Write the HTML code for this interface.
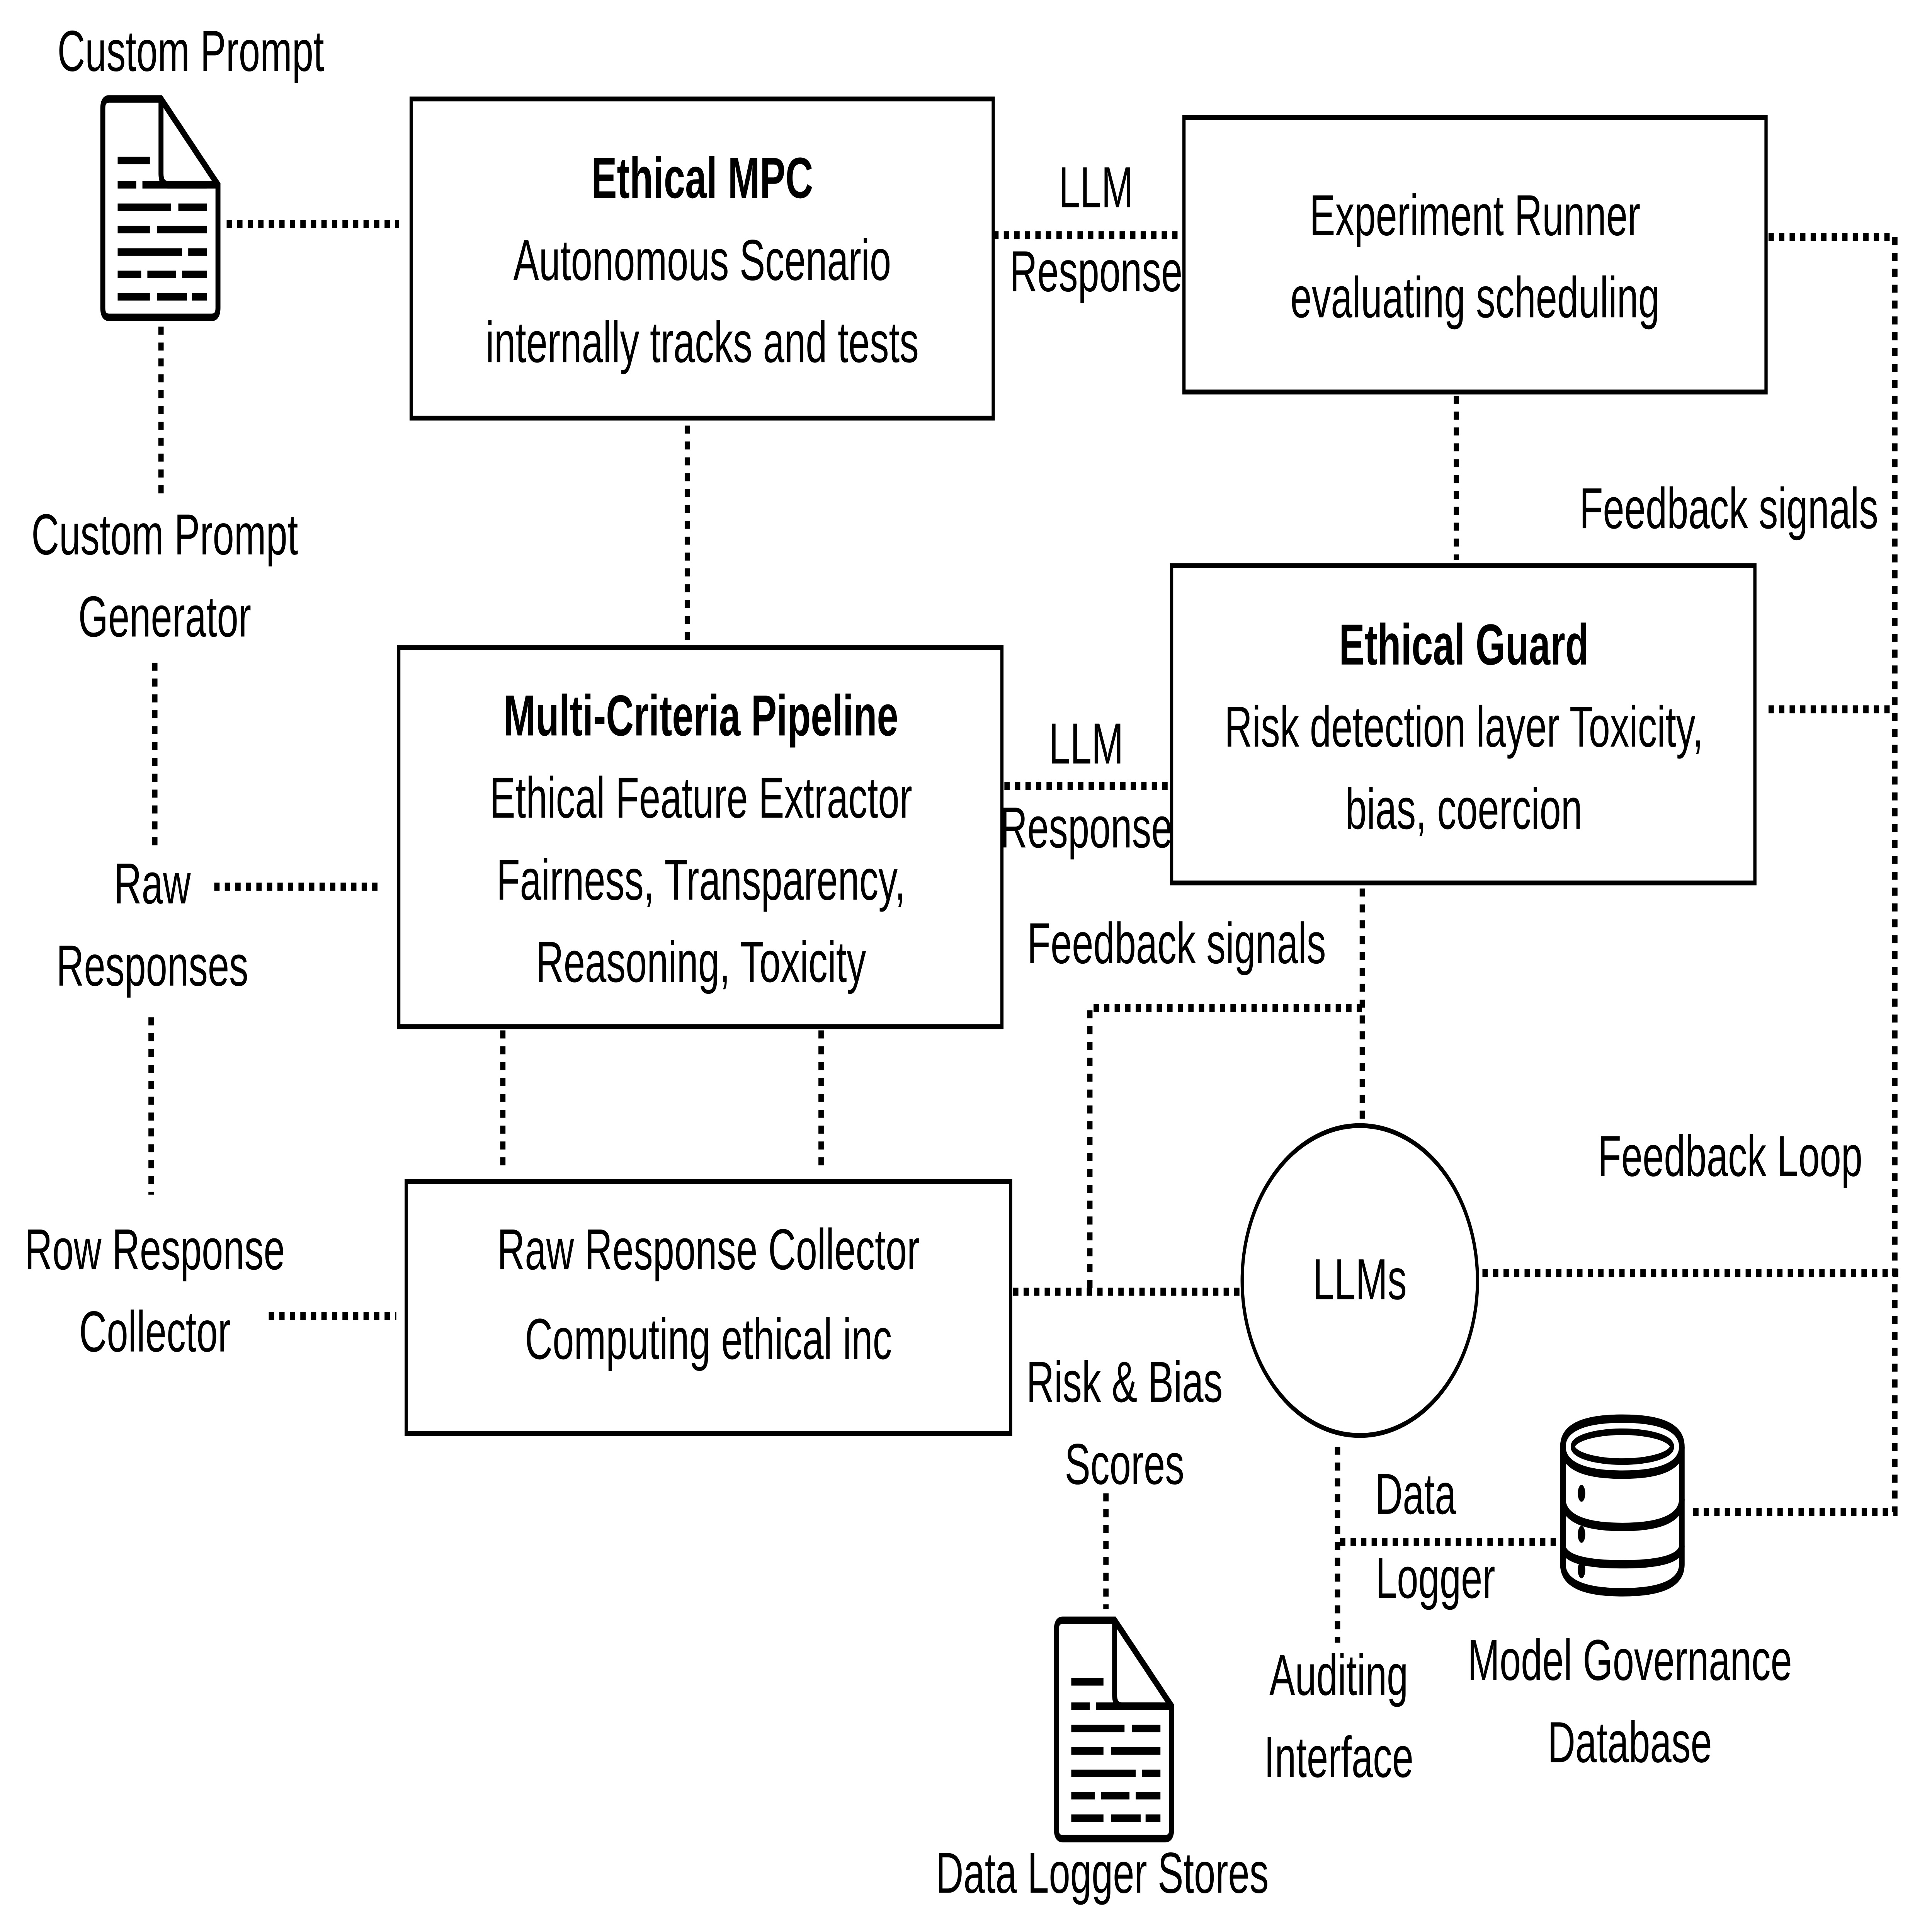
<!DOCTYPE html>
<html><head><meta charset="utf-8"><style>
html,body{margin:0;padding:0;background:#fff;width:100%;height:100%;overflow:hidden;}
svg{display:block;position:fixed;left:0;top:0;width:100vw;height:100vh;}
text{font-family:"Liberation Sans",sans-serif;font-size:31px;fill:#000;text-anchor:middle;}
.b{font-weight:bold;}
.d{fill:none;stroke:#000;stroke-width:4.3;stroke-dasharray:4.3 4.2;}
.box{fill:#fff;stroke:#000;stroke-width:2.6;}
</style></head><body>
<svg viewBox="0 0 1560 1035" preserveAspectRatio="none" xmlns="http://www.w3.org/2000/svg">
<defs>
<g id="doc">
<path d="M5,0 H47 L93,46 V112 Q93,117 88,117 H5 Q0,117 0,112 V5 Q0,0 5,0 Z" fill="#fff" stroke="#000" stroke-width="4"/>
<path d="M47,0 V40 Q47,46 53,46 H93" fill="none" stroke="#000" stroke-width="4"/>
<g stroke="#000" stroke-width="4">
<line x1="12" y1="33" x2="38" y2="33"/>
<line x1="12" y1="46" x2="27" y2="46"/><line x1="32" y1="46" x2="84" y2="46"/>
<line x1="12" y1="58" x2="55" y2="58"/><line x1="61" y1="58" x2="84" y2="58"/>
<line x1="12" y1="70" x2="38" y2="70"/><line x1="44" y1="70" x2="84" y2="70"/>
<line x1="12" y1="82" x2="64" y2="82"/><line x1="69" y1="82" x2="84" y2="82"/>
<line x1="12" y1="94" x2="31" y2="94"/><line x1="36" y1="94" x2="59" y2="94"/><line x1="64" y1="94" x2="84" y2="94"/>
<line x1="12" y1="106" x2="38" y2="106"/><line x1="44" y1="106" x2="68" y2="106"/><line x1="72" y1="106" x2="84" y2="106"/>
</g>
</g>
</defs>
<rect width="1560" height="1035" fill="#fff"/>

<path class="d" d="M183,120 H322"/>
<path class="d" d="M130,175 V268"/>
<path class="d" d="M125,355 V455"/>
<path class="d" d="M173,475 H308"/>
<path class="d" d="M122,545 V640"/>
<path class="d" d="M217,705 H320"/>
<path class="d" d="M802,126 H955"/>
<path class="d" d="M555,228 V343"/>
<path class="d" d="M811,421 H950"/>
<path class="d" d="M1176,212 V300"/>
<path class="d" d="M1428,127 H1530 V810 H1365"/>
<path class="d" d="M1428,380 H1530"/>
<path class="d" d="M406,552 V628"/>
<path class="d" d="M663,552 V628"/>
<path class="d" d="M818,692 H1002"/>
<path class="d" d="M880,690 V540 H1100"/>
<path class="d" d="M1100,476 V612"/>
<path class="d" d="M1197,682 H1535"/>
<path class="d" d="M893,800 V862"/>
<path class="d" d="M1080,775 V880"/>
<path class="d" d="M1082,826 H1258"/>

<rect class="box" x="332" y="53" width="470" height="171"/>
<rect class="box" x="956" y="63" width="470" height="147"/>
<rect class="box" x="946" y="303" width="471" height="170"/>
<rect class="box" x="322" y="347" width="487" height="203"/>
<rect class="box" x="328" y="633" width="488" height="135"/>
<ellipse cx="1098" cy="686" rx="95" ry="83" fill="#fff" stroke="#000" stroke-width="2.6"/>

<use href="#doc" x="83" y="53"/>
<use href="#doc" x="853" y="868"/>
<g fill="#fff" stroke="#000" stroke-width="4.5">
<path d="M1262,775 Q1262,760 1310,760 Q1358,760 1358,775 V838 Q1358,853 1310,853 Q1262,853 1262,838 Z"/>
<path d="M1262,775 Q1262,790 1310,790 Q1358,790 1358,775" fill="none"/>
<path d="M1262,803 Q1262,818 1310,818 Q1358,818 1358,803" fill="none"/>
<path d="M1262,828 Q1262,838 1310,838 Q1358,838 1358,828" fill="none"/>
<ellipse cx="1310" cy="775" rx="40" ry="8" fill="none" stroke-width="3.5"/>
</g>
<g fill="#000"><ellipse cx="1277" cy="800" rx="3" ry="4.5"/><ellipse cx="1277" cy="822" rx="3" ry="4.5"/><ellipse cx="1277" cy="841" rx="3" ry="4.5"/></g>

<text x="154" y="38">Custom Prompt</text>
<text x="133" y="297">Custom Prompt</text>
<text x="133" y="341">Generator</text>
<text x="123" y="484">Raw</text>
<text x="123" y="528">Responses</text>
<text x="125" y="680">Row Response</text>
<text x="125" y="724">Collector</text>

<text class="b" x="567" y="106">Ethical MPC</text>
<text x="567" y="150">Autonomous Scenario</text>
<text x="567" y="194">internally tracks and tests</text>

<text x="885" y="111">LLM</text>
<text x="885" y="156">Response</text>

<text x="1191" y="126">Experiment Runner</text>
<text x="1191" y="170">evaluating scheduling</text>

<text x="1396" y="283">Feedback signals</text>

<text class="b" x="1182" y="356">Ethical Guard</text>
<text x="1182" y="400">Risk detection layer Toxicity,</text>
<text x="1182" y="444">bias, coercion</text>

<text class="b" x="566" y="394">Multi-Criteria Pipeline</text>
<text x="566" y="438">Ethical Feature Extractor</text>
<text x="566" y="482">Fairness, Transparency,</text>
<text x="566" y="526">Reasoning, Toxicity</text>

<text x="877" y="409">LLM</text>
<text x="877" y="454">Response</text>

<text x="950" y="516">Feedback signals</text>

<text x="572" y="680">Raw Response Collector</text>
<text x="572" y="728">Computing ethical inc</text>

<text x="1098" y="696">LLMs</text>
<text x="1397" y="630">Feedback Loop</text>

<text x="908" y="751">Risk &amp; Bias</text>
<text x="908" y="795">Scores</text>

<text x="1143" y="811">Data</text>
<text x="1159" y="856">Logger</text>
<text x="1081" y="908">Auditing</text>
<text x="1081" y="952">Interface</text>
<text x="1316" y="900">Model Governance</text>
<text x="1316" y="944">Database</text>
<text x="890" y="1014">Data Logger Stores</text>
</svg>
</body></html>
